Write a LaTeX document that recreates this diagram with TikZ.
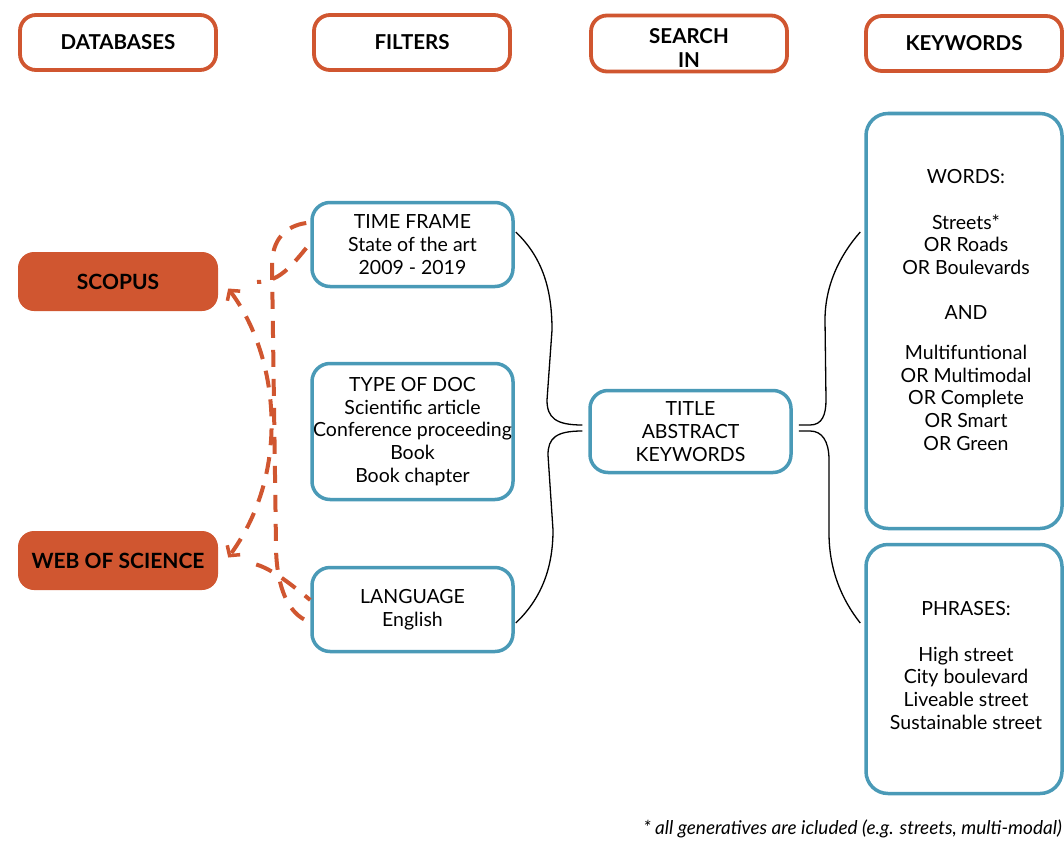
\documentclass[tikz,border=0pt]{standalone}
\usepackage{fontspec}
\setmainfont{Lato}
\usetikzlibrary{arrows.meta}
\definecolor{org}{RGB}{208,86,48}
\definecolor{blu}{RGB}{74,154,183}
\begin{document}
\begin{tikzpicture}[x=1pt,y=-1pt,
  hdr/.style={draw=org, line width=3.8pt, rounded corners=16pt, fill=white,
    minimum width=196pt, minimum height=55pt, inner sep=0pt, align=center,
    font=\fontsize{20.5}{24}\selectfont\bfseries},
  db/.style={fill=org, rounded corners=16pt, minimum width=200pt, minimum height=59pt,
    inner sep=0pt, font=\fontsize{21}{24}\selectfont\bfseries},
  filt/.style={draw=blu, line width=3.5pt, rounded corners=18pt, minimum width=201pt,
    inner sep=0pt, align=center, font=\fontsize{19.5}{22.7}\selectfont},
  kw/.style={draw=blu, line width=3.5pt, rounded corners=22pt, minimum width=196pt, inner sep=0pt},
  txt/.style={align=center, inner sep=0pt, font=\fontsize{19.5}{22.7}\selectfont},
  conn/.style={black, line width=1.3pt},
  dlink/.style={org, line width=4pt, dash pattern=on 17pt off 12pt},
  bothtip/.style={{Straight Barb[length=7pt,width=16pt,line width=3.5pt]}-{Straight Barb[length=7pt,width=16pt,line width=3.5pt]}}
]
\useasboundingbox (0,0) rectangle (1064,840);

% headers
\node[hdr] (hdb) at (118,42.5) {DATABASES};
\node[hdr] (hfi) at (412,42.5) {FILTERS};
\node[hdr, minimum height=56pt] (hse) at (689,43.5) {};
\node[align=center, inner sep=0pt, font=\fontsize{20.5}{24}\selectfont\bfseries] (hset) at (689,48) {SEARCH\\IN};
\node[hdr] (hkw) at (964,43.5) {KEYWORDS};

% databases
\node[db] (scopus) at (118,281.5) {SCOPUS};
\node[db] (wos) at (118,560.5) {WEB OF SCIENCE};

% filters
\node[filt, minimum height=84pt] (time) at (412.5,244.5) {TIME FRAME\\State of the art\\2009 - 2019};
\node[filt, minimum height=136pt] (doc) at (412.5,431.5) {TYPE OF DOC\\Scientific article\\Conference proceeding\\Book\\Book chapter};
\node[filt, minimum height=84pt] (lang) at (412.5,609.5) {LANGUAGE\\English};

% search in
\node[filt, minimum height=82pt] (search) at (690.5,431.5) {TITLE\\ABSTRACT\\KEYWORDS};

% keywords
\node[kw, minimum height=415pt] (words) at (964,321) {};
\node[txt] (wordst) at (966,310) {WORDS:\\[22.7pt]Streets*\\OR Roads\\OR Boulevards\\[22.7pt]AND\\[17pt]Multifuntional\\OR Multimodal\\OR Complete\\OR Smart\\OR Green};
\node[kw, minimum height=249pt] (phr) at (964,669) {};
\node[txt] (phrt) at (966,665.5) {PHRASES:\\[22.7pt]High street\\City boulevard\\Liveable street\\Sustainable street};

% footnote
\node[anchor=east, inner sep=0pt, font=\fontsize{19}{22}\selectfont\itshape] (note) at (1062,829) {* all generatives are icluded (e.g. streets, multi-modal)};

% black connectors
\draw[conn] ([shift={(1,-12.5)}]time.east) .. controls (543,258) and (552,290) .. (552,330)
  -- (547,400) .. controls (547,418) and (556,425) .. ([shift={(-6,-6.5)}]search.west);
\draw[conn] ([shift={(-6,-0.5)}]search.west) .. controls (556,431) and (548,438) .. (548,455)
  -- (553,530) .. controls (553,570) and (540,600) .. ([shift={(1,13.5)}]lang.east);
\draw[conn] ([shift={(6,-6.5)}]search.east) -- (810,425) .. controls (822,425) and (826,415) .. (826,400)
  -- (825,320) .. controls (825,285) and (840,255) .. ([shift={(-4,-89)}]words.west);
\draw[conn] ([shift={(6,-0.5)}]search.east) -- (810,431) .. controls (822,431) and (829,441) .. (829,460)
  -- (829,533) .. controls (829,570) and (842,600) .. ([shift={(-4,-46)}]phr.west);

% dashed orange links
\draw[dlink, bothtip] ([shift={(10,7)}]scopus.east) .. controls (278,355) and (292,470) .. ([shift={(10,-3)}]wos.east);
\draw[dlink] ([shift={(-4,-21.5)}]time.west) .. controls (285,226) and (272,240) .. (272,265)
  -- (276,545) .. controls (276,580) and (285,610) .. ([shift={(-5,10.5)}]lang.west);
\coordinate (tend) at (257,282);
\draw[dlink] ([shift={(-4,3.5)}]time.west) .. controls (290,268) and (278,282) .. (tend);
\draw[dlink] ([shift={(38,4)}]wos.east) .. controls (272,569) and (292,585) .. ([shift={(0,-9.5)}]lang.west);
\end{tikzpicture}
\end{document}
